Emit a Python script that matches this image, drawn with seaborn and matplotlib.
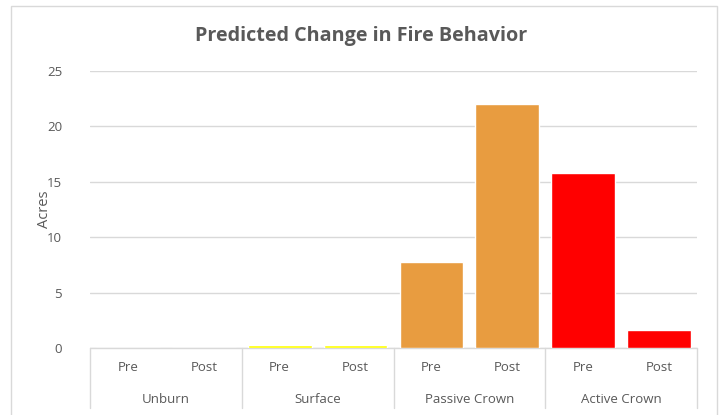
import seaborn as sns
import matplotlib.pyplot as plt
import pandas as pd
from matplotlib.patches import Rectangle

# Datos
grupos = ["Unburn", "Surface", "Passive Crown", "Active Crown"]
periodos = ["Pre", "Post"]
acres_pre = [0.0, 0.25, 7.8, 15.8]
acres_post = [0.0, 0.25, 22.0, 1.6]
colores = ["#FFFFFF", "#FFFF00", "#E89C40", "#FF0000"]

filas = []
for i, g in enumerate(grupos):
    filas.append({"slot": f"{g} Pre", "grupo": g, "periodo": "Pre", "acres": acres_pre[i]})
    filas.append({"slot": f"{g} Post", "grupo": g, "periodo": "Post", "acres": acres_post[i]})
data = pd.DataFrame(filas)

sns.set_style("white")
plt.rcParams["font.family"] = ["Open Sans", "DejaVu Sans"]
gris = "#595959"

fig = plt.figure(figsize=(7.23, 4.15), dpi=100)
ax = fig.add_axes([90 / 723, 1 - 348 / 415, (697 - 90) / 723, (348 - 71) / 415])

sns.barplot(
    data=data,
    x="slot",
    y="acres",
    hue="grupo",
    palette=dict(zip(grupos, colores)),
    dodge=False,
    legend=False,
    width=0.84,
    saturation=1,
    zorder=3,
    ax=ax,
)

ax.set_ylim(0, 25)
ax.set_xlim(-0.5, len(data) - 0.5)
ax.set_yticks(range(0, 26, 5))
ax.yaxis.grid(True, color="#D9D9D9", linewidth=1)
ax.set_axisbelow(True)
for s in ["top", "right", "left", "bottom"]:
    ax.spines[s].set_visible(False)
ax.tick_params(axis="y", length=0, labelsize=9.5, labelcolor=gris, pad=20)
ax.set_xticks(range(len(data)))
ax.set_xticklabels(list(data["periodo"]), fontsize=9.5, color=gris)
ax.tick_params(axis="x", length=0, pad=9)
ax.set_xlabel("")
ax.set_ylabel("Acres", fontsize=10.5, color=gris)
ax.yaxis.set_label_coords(-0.062, 0.5)

# Eje de categorias agrupado
trans = ax.get_xaxis_transform()
linea = dict(color="#D9D9D9", linewidth=1, clip_on=False, zorder=1)
ax.plot([-0.5, len(data) - 0.5], [0, 0], transform=trans, **linea)
for k in range(len(grupos) + 1):
    ax.plot([k * 2 - 0.5, k * 2 - 0.5], [0, -60 / 277], transform=trans, **linea)
for k, g in enumerate(grupos):
    ax.text(k * 2 + 0.5, -51 / 277, g, transform=trans, ha="center", va="center",
            fontsize=9.5, color=gris)

fig.text(0.5, 1 - 36 / 415, "Predicted Change in Fire Behavior", ha="center", va="center",
         fontsize=14.2, fontweight="bold", color=gris)

# Borde del area del grafico
fig.patches.append(Rectangle((11 / 723, -0.05), (717 - 11) / 723, 1.05 - 6 / 415,
                             transform=fig.transFigure, fill=False,
                             edgecolor="#D9D9D9", linewidth=1))

plt.savefig("out.png", dpi=100)
